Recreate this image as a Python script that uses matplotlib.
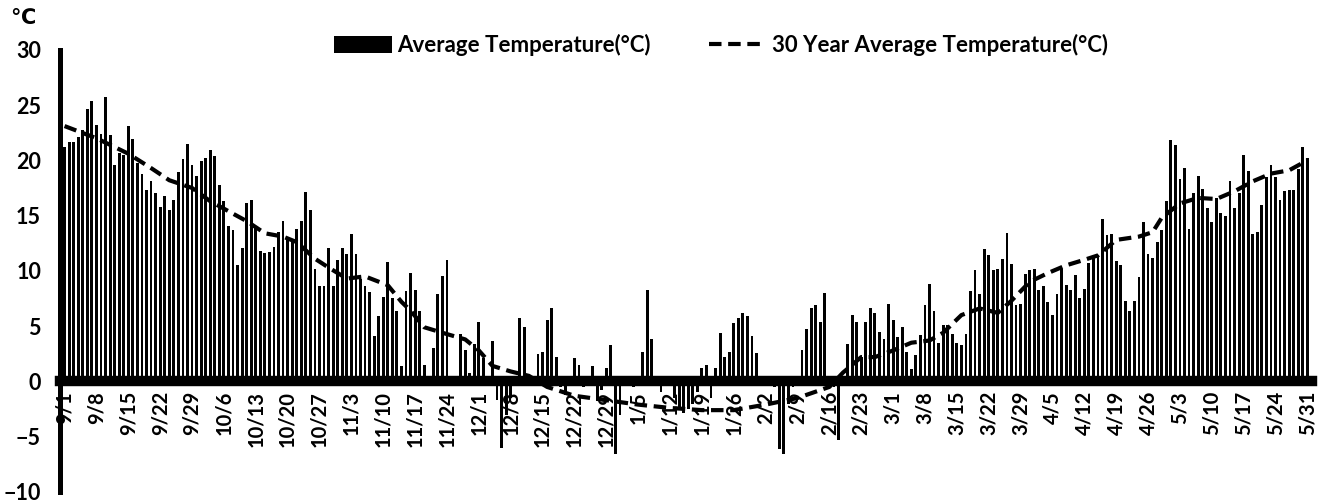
import matplotlib
matplotlib.use('Agg')
import matplotlib.pyplot as plt
import numpy as np

# daily mean temperature, 9/1 - 5/31 (one list per month)
sep = [21.2, 21.7, 21.7, 22.1, 22.7, 24.6, 25.4, 23.2, 22.4, 25.7,
       22.3, 19.6, 20.7, 20.5, 23.1, 21.9, 19.8, 18.8, 17.3, 18.1,
       17.0, 15.8, 16.8, 15.5, 16.4, 18.9, 20.1, 21.5, 19.6, 18.6]
oct_ = [19.9, 20.2, 20.9, 20.4, 17.8, 16.3, 14.1, 13.7, 10.5, 12.1,
        16.1, 16.4, 14.0, 11.8, 11.6, 11.7, 12.2, 13.5, 14.5, 12.9,
        12.8, 13.8, 14.5, 17.1, 15.5, 10.2, 8.6, 8.6, 12.1, 8.6, 11.0]
nov = [12.1, 11.5, 13.3, 11.5, 9.3, 8.6, 8.1, 4.1, 5.9, 7.6,
       10.8, 7.5, 6.4, 1.4, 8.2, 9.8, 8.3, 6.4, 1.5, 0.2,
       3.0, 7.9, 9.5, 11.0, 0.2, 0.0, 4.3, 2.8, 0.8, 3.4]
dec = [5.4, 2.1, 0.5, 3.7, -1.7, -6.0, -3.0, -1.5, 0.2, 5.7,
       4.9, 0.3, 0.2, 2.5, 2.7, 5.6, 6.6, 2.2, -0.5, -1.2,
       -0.3, 2.1, 1.5, -0.5, 0.2, 1.4, -1.8, -0.8, 1.2, 3.3, -6.6]
jan = [-3.0, 0.3, -0.3, -0.5, 0.0, 2.7, 8.3, 3.8, 0.1, -1.0,
       0.1, 0.3, -1.5, -2.5, -2.9, -2.5, -2.0, -1.0, 1.2, 1.5,
       -1.5, 1.2, 4.4, 2.2, 2.7, 5.3, 5.7, 6.2, 5.9, 4.1, 2.6]
feb = [0.4, 0.3, 0.0, -0.5, -6.1, -6.6, -2.0, -0.5, -0.2, 2.8,
       4.7, 6.6, 6.9, 5.4, 8.0, 0.0, -0.5, -5.3, 0.3, 3.4,
       6.0, 5.4, 2.2, 5.4, 6.6, 6.2, 4.5, 3.8, 7.0]
mar = [5.6, 4.0, 4.9, 2.7, 1.1, 2.4, 4.2, 6.9, 8.8, 6.4,
       3.5, 5.1, 5.1, 4.3, 3.5, 3.3, 4.3, 8.2, 10.1, 7.9,
       12.0, 11.4, 10.1, 10.2, 11.1, 13.4, 10.6, 6.9, 7.0, 9.7, 10.1]
apr = [10.2, 8.3, 8.6, 7.2, 6.0, 7.9, 10.2, 8.7, 8.3, 9.6,
       7.5, 8.4, 10.7, 11.3, 11.4, 14.7, 13.2, 13.3, 10.9, 10.5,
       7.3, 6.4, 7.3, 9.4, 14.4, 11.5, 11.2, 12.6, 13.7, 16.3]
may = [21.8, 21.4, 18.3, 19.3, 13.8, 17.0, 18.6, 17.4, 15.7, 14.4,
       16.6, 15.2, 15.0, 18.1, 15.7, 17.0, 20.5, 19.0, 13.3, 13.5,
       16.0, 18.5, 19.6, 18.5, 16.4, 17.2, 17.3, 17.3, 19.2, 21.2, 20.2]

temps = sep + oct_ + nov + dec + jan + feb + mar + apr + may
days = np.arange(len(temps))

# 30 year average, read at these day numbers
avg30_days = [0, 7, 14, 19, 23, 28, 32, 36, 40, 44, 48, 51, 55, 58, 62, 66, 71, 74, 76, 79,
              83, 88, 91, 94, 98, 102, 106, 112, 119, 126, 133, 140, 147, 154, 161, 168, 171, 175, 178, 182,
              186, 190, 193, 197, 201, 205, 208, 212, 216, 220, 224, 227, 231, 236, 239, 241, 245, 249, 253, 257,
              261, 265, 269, 273]
avg30_vals = [23.1, 22.0, 20.6, 19.3, 18.2, 17.5, 16.3, 15.4, 14.5, 13.4, 13.1, 12.6, 11.1, 10.3, 9.3, 9.5, 8.7, 7.2, 6.4, 4.9,
              4.4, 3.8, 2.8, 1.4, 0.9, 0.5, -0.5, -1.3, -1.7, -2.1, -2.4, -2.6, -2.6, -2.1, -1.5, -0.5, 0.8, 2.2, 2.2, 2.8,
              3.5, 3.7, 4.4, 6.0, 6.6, 6.2, 7.3, 9.0, 9.8, 10.5, 11.0, 11.4, 12.8, 13.1, 13.5, 14.8, 16.1, 16.6, 16.5, 17.2,
              18.1, 18.8, 19.1, 20.0]

tick_labels = ['9/1', '9/8', '9/15', '9/22', '9/29', '10/6', '10/13', '10/20', '10/27', '11/3',
               '11/10', '11/17', '11/24', '12/1', '12/8', '12/15', '12/22', '12/29', '1/5', '1/12',
               '1/19', '1/26', '2/2', '2/9', '2/16', '2/23', '3/1', '3/8', '3/15', '3/22',
               '3/29', '4/5', '4/12', '4/19', '4/26', '5/3', '5/10', '5/17', '5/24', '5/31']

plt.rcParams['font.family'] = ['Lato', 'DejaVu Sans']
plt.rcParams['font.weight'] = 'bold'

fig = plt.figure(figsize=(13.29, 5.03), dpi=100)
ax = fig.add_axes([0.0455, 0.022, 0.942, 0.879])

bars = ax.bar(days, temps, width=0.62, color='black', label='Average Temperature(°C)', zorder=2)
line, = ax.plot(avg30_days, avg30_vals, color='black', lw=3, ls=(0, (3, 1.6)),
                label='30 Year Average Temperature(°C)', zorder=3)

ax.set_xlim(-0.9, 274.1)
ax.set_ylim(-10, 30)
ax.set_yticks(range(-10, 31, 5))
ax.set_xticks(range(0, len(temps), 7))
ax.set_xticklabels(tick_labels)

for s in ['top', 'right']:
    ax.spines[s].set_visible(False)
ax.spines['bottom'].set_position(('data', 0))
ax.spines['bottom'].set_linewidth(7.5)
ax.spines['bottom'].set_zorder(4)
ax.spines['left'].set_linewidth(3.6)
ax.tick_params(axis='x', length=0, pad=7, labelsize=14.5, labelrotation=90)
ax.tick_params(axis='y', length=0, pad=14, labelsize=15.5)
for t in ax.get_xticklabels() + ax.get_yticklabels():
    t.set_fontweight('bold')

fig.text(0.008, 0.965, '℃', fontsize=15, fontweight='bold', va='center', ha='left')

fig.legend(handles=[bars, line], loc='center', bbox_to_anchor=(0.5425, 0.91), ncol=2, frameon=False,
           prop={'size': 16, 'weight': 'bold'}, handlelength=2.6, handleheight=0.75,
           handletextpad=0.25, columnspacing=2.6)

fig.savefig('out.png', dpi=100)
